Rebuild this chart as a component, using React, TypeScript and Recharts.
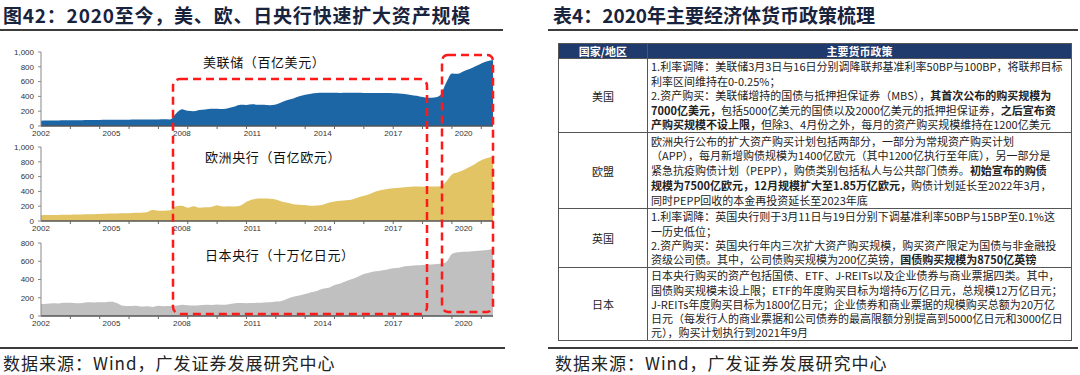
import React from "react";
import { AreaChart, Area, XAxis, YAxis } from "recharts";

// quarterly points, Dec 2002 .. Mar 2022
const yearLabels = ["2002", "2005", "2008", "2011", "2014", "2017", "2020"];

const fed = [
  72, 73, 74, 75, 77, 77, 78, 79, 80, 81, 82, 83, 84, 85, 86, 86, 87, 88, 88, 89,
  89, 90, 89, 170, 225, 205, 200, 215, 224, 232, 234, 230, 243, 265, 287, 285, 293, 288, 287, 282,
  291, 321, 350, 372, 401, 423, 437, 446, 450, 448, 449, 447, 449, 448, 448, 446, 445, 447, 447, 446,
  444, 440, 432, 420, 408, 391, 383, 386, 417, 581, 709, 705, 740, 770, 807, 845, 876, 893,
];

const ecb = [
  79, 80, 81, 82, 84, 85, 87, 88, 90, 92, 95, 97, 100, 102, 104, 106, 110, 112, 118, 150,
  140, 140, 145, 200, 205, 180, 200, 180, 185, 190, 212, 195, 200, 195, 210, 260, 290, 305, 305, 300,
  290, 265, 245, 225, 220, 215, 205, 210, 218, 245, 262, 272, 280, 292, 318, 340, 365, 400, 420, 432,
  442, 448, 455, 462, 465, 464, 465, 466, 470, 530, 630, 660, 690, 730, 775, 820, 850, 872,
];

const boj = [
  132, 135, 140, 138, 146, 145, 140, 142, 150, 148, 150, 152, 155, 140, 112, 110, 113, 105, 108, 100,
  112, 108, 110, 112, 122, 118, 115, 117, 122, 120, 125, 122, 128, 140, 142, 140, 142, 145, 148, 150,
  158, 165, 190, 210, 224, 240, 260, 275, 300, 310, 340, 355, 383, 405, 430, 460, 476, 490, 500, 510,
  522, 528, 545, 550, 557, 560, 565, 568, 573, 590, 680, 700, 705, 708, 712, 718, 724, 737,
];

const rows = fed.map((v, i) => ({ i, fed: v, ecb: ecb[i], boj: boj[i] }));
const last = fed.length - 1;
const labelTicks = yearLabels.map((_, k) => k * 12);
const minorTicks: number[] = [];
for (let t = 5; t <= last; t += 5) minorTicks.push(t);
const xTicks = Array.from(new Set([...labelTicks, ...minorTicks])).sort((a, b) => a - b);

const panels = [
  { key: "fed", title: "美联储（百亿美元）", color: "#1C66A6", max: 1000, top: 42, height: 104, titleLeft: 203, titleTop: 54 },
  { key: "ecb", title: "欧洲央行（百亿欧元）", color: "#E2C464", max: 1000, top: 137, height: 104, titleLeft: 205, titleTop: 149 },
  { key: "boj", title: "日本央行（十万亿日元）", color: "#C0C0C0", max: 800, top: 233, height: 103, titleLeft: 205, titleTop: 247 },
];

// ** ... ** marks bold text
const tableRows = [
  {
    name: "美国",
    height: 74,
    lh: 14.4,
    lines: [
      "1.利率调降：美联储3月3日与16日分别调降联邦基准利率50BP与100BP，将联邦目标",
      "利率区间维持在0-0.25%；",
      "2.资产购买：美联储增持的国债与抵押担保证券（MBS），**其首次公布的购买规模为**",
      "**7000亿美元，**包括5000亿美元的国债以及2000亿美元的抵押担保证券，**之后宣布资**",
      "**产购买规模不设上限，**但除3、4月份之外，每月的资产购买规模维持在1200亿美元",
    ],
  },
  {
    name: "欧盟",
    height: 76,
    lh: 14.8,
    lines: [
      "欧洲央行公布的扩大资产购买计划包括两部分，一部分为常规资产购买计划",
      "（APP），每月新增购债规模为1400亿欧元（其中1200亿执行至年底），另一部分是",
      "紧急抗疫购债计划（PEPP），购债类别包括私人与公共部门债券。**初始宣布的购债**",
      "**规模为7500亿欧元，12月规模扩大至1.85万亿欧元，**购债计划延长至2022年3月，",
      "同时PEPP回收的本金再投资延长至2023年底",
    ],
  },
  {
    name: "英国",
    height: 59,
    lh: 14.4,
    lines: [
      "1.利率调降：英国央行则于3月11日与19日分别下调基准利率50BP与15BP至0.1%这",
      "一历史低位；",
      "2.资产购买：英国央行年内三次扩大资产购买规模，购买资产限定为国债与非金融投",
      "资级公司债。其中，公司债购买规模为200亿英镑，**国债购买规模为8750亿英镑**",
    ],
  },
  {
    name: "日本",
    height: 73,
    lh: 14.3,
    lines: [
      "日本央行购买的资产包括国债、ETF、J-REITs以及企业债券与商业票据四类。其中，",
      "国债购买规模未设上限；ETF的年度购买目标为增持6万亿日元，总规模12万亿日元；",
      "J-REITs年度购买目标为1800亿日元；企业债券和商业票据的规模购买总额为20万亿",
      "日元（每发行人的商业票据和公司债券的最高限额分别提高到5000亿日元和3000亿日",
      "元），购买计划执行到2021年9月",
    ],
  },
];

const cjk = '"Noto Sans CJK SC", "Noto Sans", sans-serif';
const latin = '"Liberation Sans", Arial, sans-serif';

function XTick(props: any) {
  const { x, y, payload } = props;
  const v = payload.value;
  const k = labelTicks.indexOf(v);
  return (
    <g>
      {v % 5 === 0 && v > 0 ? <line x1={x} x2={x} y1={y} y2={y + 3} stroke="#666" /> : null}
      {k >= 0 ? (
        <text x={x} y={y + 4} dy="0.71em" textAnchor="middle" fontSize={8} fill="#333" fontFamily={latin}>
          {yearLabels[k]}
        </text>
      ) : null}
    </g>
  );
}

function Panel({ p }: { p: any }) {
  const yTicks: number[] = [];
  for (let t = 0; t <= p.max; t += 200) yTicks.push(t);
  return (
    <div style={{ position: "absolute", left: 0, top: p.top }}>
      <AreaChart width={500} height={p.height} data={rows} margin={{ top: 10, right: 7, bottom: 0, left: 0 }}>
        <XAxis
          dataKey="i"
          type="number"
          domain={[0, last]}
          ticks={xTicks}
          interval={0}
          tick={(tp: any) => <XTick {...tp} />}
          tickLine={false}
          tickSize={0}
          tickMargin={0}
          axisLine={{ stroke: "#555", strokeWidth: 1.5 }}
          height={20}
        />
        <YAxis
          domain={[0, p.max]}
          ticks={yTicks}
          width={41}
          tickSize={3}
          tickMargin={4}
          tick={{ fontSize: 8, fill: "#333", fontFamily: latin }}
          tickFormatter={(v: number) => v.toLocaleString("en-US")}
          axisLine={{ stroke: "#888" }}
          tickLine={{ stroke: "#888" }}
        />
        <Area type="monotone" dataKey={p.key} stroke="none" fill={p.color} fillOpacity={1} isAnimationActive={false} />
      </AreaChart>
      <div
        style={{
          position: "absolute",
          left: p.titleLeft,
          top: p.titleTop - p.top,
          fontFamily: cjk,
          fontSize: 13,
          lineHeight: "16px",
          letterSpacing: 0.6,
          color: "#111",
          whiteSpace: "nowrap",
        }}
      >
        {p.title}
      </div>
    </div>
  );
}

function RichLine({ text }: { text: string }) {
  const parts = text.split("**");
  return (
    <div style={{ whiteSpace: "nowrap" }}>
      {parts.map((s, k) => (
        <span key={k} style={{ fontWeight: k % 2 === 1 ? 700 : 400 }}>
          {s}
        </span>
      ))}
    </div>
  );
}

function PolicyTable() {
  const border = "1px solid #555";
  return (
    <div
      style={{
        position: "absolute",
        left: 558,
        top: 43,
        width: 514,
        border,
        fontFamily: cjk,
        fontSize: 11,
        color: "#222",
        boxSizing: "border-box",
      }}
    >
      <div style={{ display: "flex", height: 14, background: "#1F3A6C", color: "#fff", fontWeight: 700, lineHeight: "14px" }}>
        <div style={{ width: 88, textAlign: "center", borderRight: border }}>国家/地区</div>
        <div style={{ flex: 1, textAlign: "center" }}>主要货币政策</div>
      </div>
      {tableRows.map((r) => (
        <div key={r.name} style={{ display: "flex", height: r.height, borderTop: border, boxSizing: "border-box" }}>
          <div style={{ width: 88, borderRight: border, display: "flex", alignItems: "center", justifyContent: "center" }}>
            {r.name}
          </div>
          <div
            style={{
              flex: 1,
              padding: "0 3px",
              display: "flex",
              flexDirection: "column",
              justifyContent: "center",
              lineHeight: `${r.lh}px`,
              overflow: "hidden",
            }}
          >
            {r.lines.map((l, k) => (
              <RichLine key={k} text={l} />
            ))}
          </div>
        </div>
      ))}
    </div>
  );
}

export default function App() {
  const heading = { position: "absolute" as const, top: 3, fontFamily: cjk, fontSize: 19, fontWeight: 700, color: "#18233D", whiteSpace: "nowrap" as const, lineHeight: "24px" };
  const rule = { position: "absolute" as const, height: 2, background: "#3C3C3C" };
  const source = { position: "absolute" as const, top: 352, fontFamily: cjk, fontSize: 17, letterSpacing: 1, color: "#222", whiteSpace: "nowrap" as const, lineHeight: "22px" };
  return (
    <div style={{ position: "absolute", left: 0, top: 0, width: 1080, height: 375, background: "#fff", overflow: "hidden", fontFamily: latin }}>
      <div style={{ ...heading, left: 3, letterSpacing: 0.8 }}>图42：2020至今，美、欧、日央行快速扩大资产规模</div>
      <div style={{ ...heading, left: 553 }}>表4：2020年主要经济体货币政策梳理</div>
      <div style={{ ...rule, left: 0, top: 29, width: 503 }} />
      <div style={{ ...rule, left: 548, top: 29, width: 530 }} />

      {panels.map((p) => (
        <Panel key={p.key} p={p} />
      ))}

      <svg width={1080} height={375} style={{ position: "absolute", left: 0, top: 0, pointerEvents: "none" }}>
        <rect x={173} y={79} width={254} height={235} rx={7} fill="none" stroke="#FF1A1A" strokeWidth={2.5} strokeDasharray="8 5" />
        <rect x={442} y={55} width={51} height={257} rx={6} fill="none" stroke="#FF1A1A" strokeWidth={2.5} strokeDasharray="8 5" />
      </svg>

      <PolicyTable />

      <div style={{ ...rule, left: 0, top: 347, width: 505 }} />
      <div style={{ ...rule, left: 548, top: 347, width: 530 }} />
      <div style={{ ...source, left: 3 }}>数据来源：Wind，广发证券发展研究中心</div>
      <div style={{ ...source, left: 555 }}>数据来源：Wind，广发证券发展研究中心</div>
    </div>
  );
}
